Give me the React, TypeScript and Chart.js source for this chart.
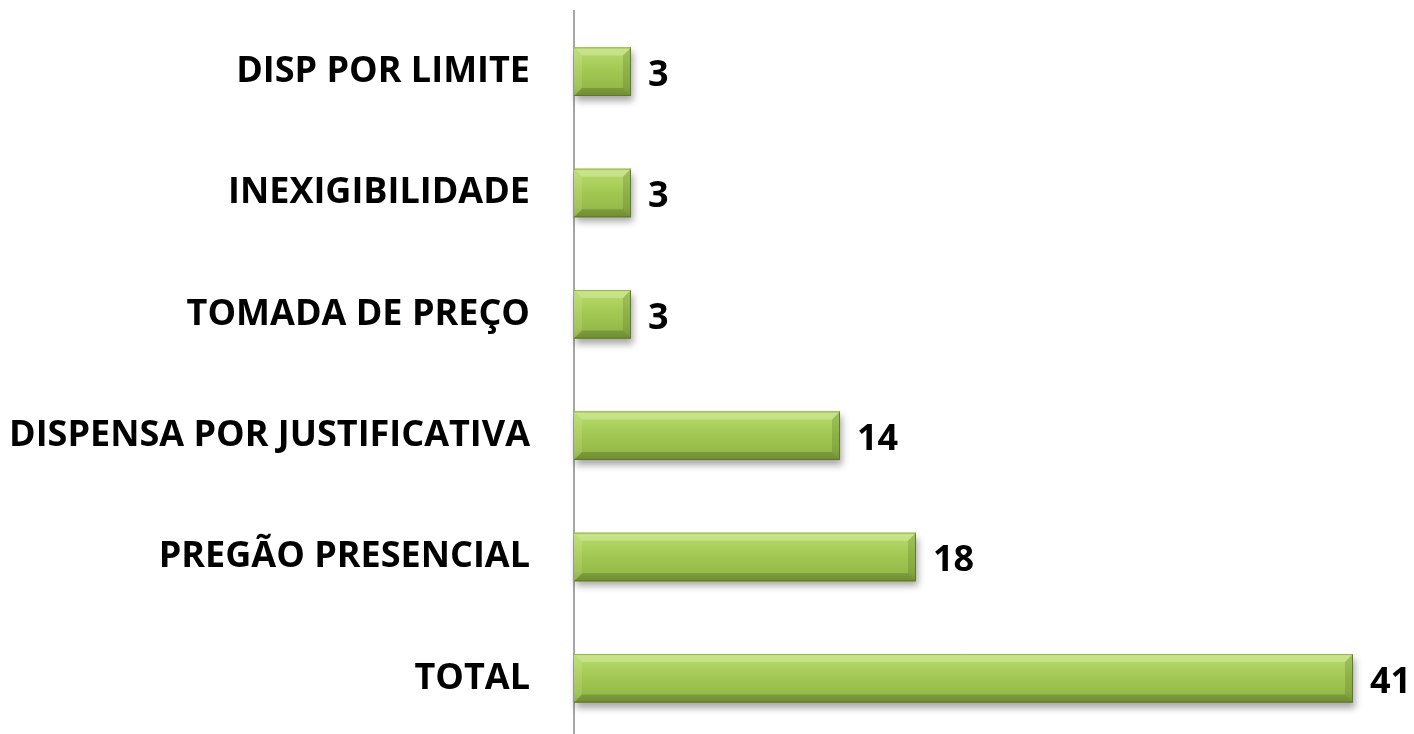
import React, { useEffect, useRef } from "react";
import { Chart, registerables } from "chart.js";

Chart.register(...registerables);

const categories = [
  "DISP POR LIMITE",
  "INEXIGIBILIDADE",
  "TOMADA DE PREÇO",
  "DISPENSA POR JUSTIFICATIVA",
  "PREGÃO PRESENCIAL",
  "TOTAL",
];
const values = [3, 3, 3, 14, 18, 41];

const FONT = "'Open Sans', 'DejaVu Sans', sans-serif";

const shadowPlugin = {
  id: "barShadow",
  beforeDatasetsDraw(chart: any) {
    const ctx = chart.ctx;
    const meta = chart.getDatasetMeta(0);
    ctx.save();
    meta.data.forEach((el: any) => {
      const { x, y, base, height } = el.getProps(["x", "y", "base", "height"], true);
      const x0 = Math.min(x, base);
      const w = Math.abs(x - base);
      ctx.shadowColor = "rgba(0,0,0,0.35)";
      ctx.shadowBlur = 7;
      ctx.shadowOffsetX = 2;
      ctx.shadowOffsetY = 5;
      ctx.fillStyle = "#8aa844";
      ctx.fillRect(x0, y - height / 2, w, height);
    });
    ctx.restore();
  },
  afterDatasetsDraw(chart: any) {
    const ctx = chart.ctx;
    const meta = chart.getDatasetMeta(0);
    ctx.save();
    meta.data.forEach((el: any, i: number) => {
      const { x, y, base, height } = el.getProps(["x", "y", "base", "height"], true);
      const x0 = Math.min(x, base);
      const x1 = Math.max(x, base);
      const y0 = y - height / 2;
      const y1 = y + height / 2;
      const b = 8;
      const poly = (pts: number[][], fill: string) => {
        ctx.beginPath();
        ctx.moveTo(pts[0][0], pts[0][1]);
        for (let k = 1; k < pts.length; k++) ctx.lineTo(pts[k][0], pts[k][1]);
        ctx.closePath();
        ctx.fillStyle = fill;
        ctx.fill();
      };
      poly([[x0, y0], [x1, y0], [x1 - b, y0 + b], [x0 + b, y0 + b]], "rgba(255,255,220,0.28)");
      poly([[x0, y1], [x1, y1], [x1 - b, y1 - b], [x0 + b, y1 - b]], "rgba(40,60,10,0.22)");
      poly([[x1, y0], [x1, y1], [x1 - b, y1 - b], [x1 - b, y0 + b]], "rgba(40,60,10,0.16)");
      poly([[x0, y0], [x0, y1], [x0 + b, y1 - b], [x0 + b, y0 + b]], "rgba(255,255,220,0.12)");
      ctx.strokeStyle = "rgba(90,120,35,0.9)";
      ctx.lineWidth = 1;
      ctx.beginPath();
      ctx.moveTo(x0, y1 - 0.5);
      ctx.lineTo(x1 - 0.5, y1 - 0.5);
      ctx.lineTo(x1 - 0.5, y0);
      ctx.stroke();
      ctx.strokeStyle = "rgba(140,180,60,0.9)";
      ctx.beginPath();
      ctx.moveTo(x0, y0 + 0.5);
      ctx.lineTo(x1, y0 + 0.5);
      ctx.stroke();

      ctx.fillStyle = "#000";
      ctx.font = `bold 36px ${FONT}`;
      ctx.textAlign = "left";
      ctx.textBaseline = "middle";
      ctx.fillText(String(values[i]), x1 + 17, y + 4);
    });
    ctx.restore();
  },
};

export default function App() {
  const ref = useRef<HTMLCanvasElement>(null);
  useEffect(() => {
    if (!ref.current) return;
    const chart = new Chart(ref.current, {
      type: "bar",
      data: {
        labels: categories,
        datasets: [
          {
            data: values,
            barPercentage: 0.4,
            categoryPercentage: 1.0,
            borderWidth: 0,
            backgroundColor: (c: any) => {
              const ch = c.chart;
              const ys = ch.scales && ch.scales.y;
              if (!ys || c.dataIndex === undefined) return "#9fc44f";
              const cy = ys.getPixelForValue(c.dataIndex);
              if (!isFinite(cy)) return "#9fc44f";
              const h = 48.5;
              const g = ch.ctx.createLinearGradient(0, cy - h / 2, 0, cy + h / 2);
              g.addColorStop(0, "#b6d96e");
              g.addColorStop(0.18, "#b0d564");
              g.addColorStop(0.5, "#a1c752");
              g.addColorStop(0.8, "#97bb4a");
              g.addColorStop(1, "#85a440");
              return g;
            },
          },
        ],
      },
      options: {
        indexAxis: "y",
        responsive: false,
        animation: false,
        layout: { padding: { top: 11, bottom: 21, right: 4, left: 0 } },
        plugins: { legend: { display: false }, tooltip: { enabled: false } },
        scales: {
          x: { display: false, min: 0, max: 44 },
          y: {
            type: "category",
            grid: { display: false, drawTicks: false },
            border: { display: true, color: "#a6a6a6", width: 2 },
            ticks: {
              padding: 44,
              color: "#000",
              font: { family: FONT, weight: "bold", size: 36 },
            },
            afterFit: (s: any) => {
              s.width = 574;
              s.paddingTop = 0;
              s.paddingBottom = 0;
            },
          },
        },
      },
      plugins: [shadowPlugin],
    } as any);
    return () => chart.destroy();
  }, []);
  return (
    <div
      style={{
        position: "fixed",
        left: 0,
        top: 0,
        width: 1414,
        height: 734,
        overflow: "hidden",
        background: "#fff",
      }}
    >
      <canvas ref={ref} width={1414} height={760} style={{ display: "block" }} />
    </div>
  );
}
